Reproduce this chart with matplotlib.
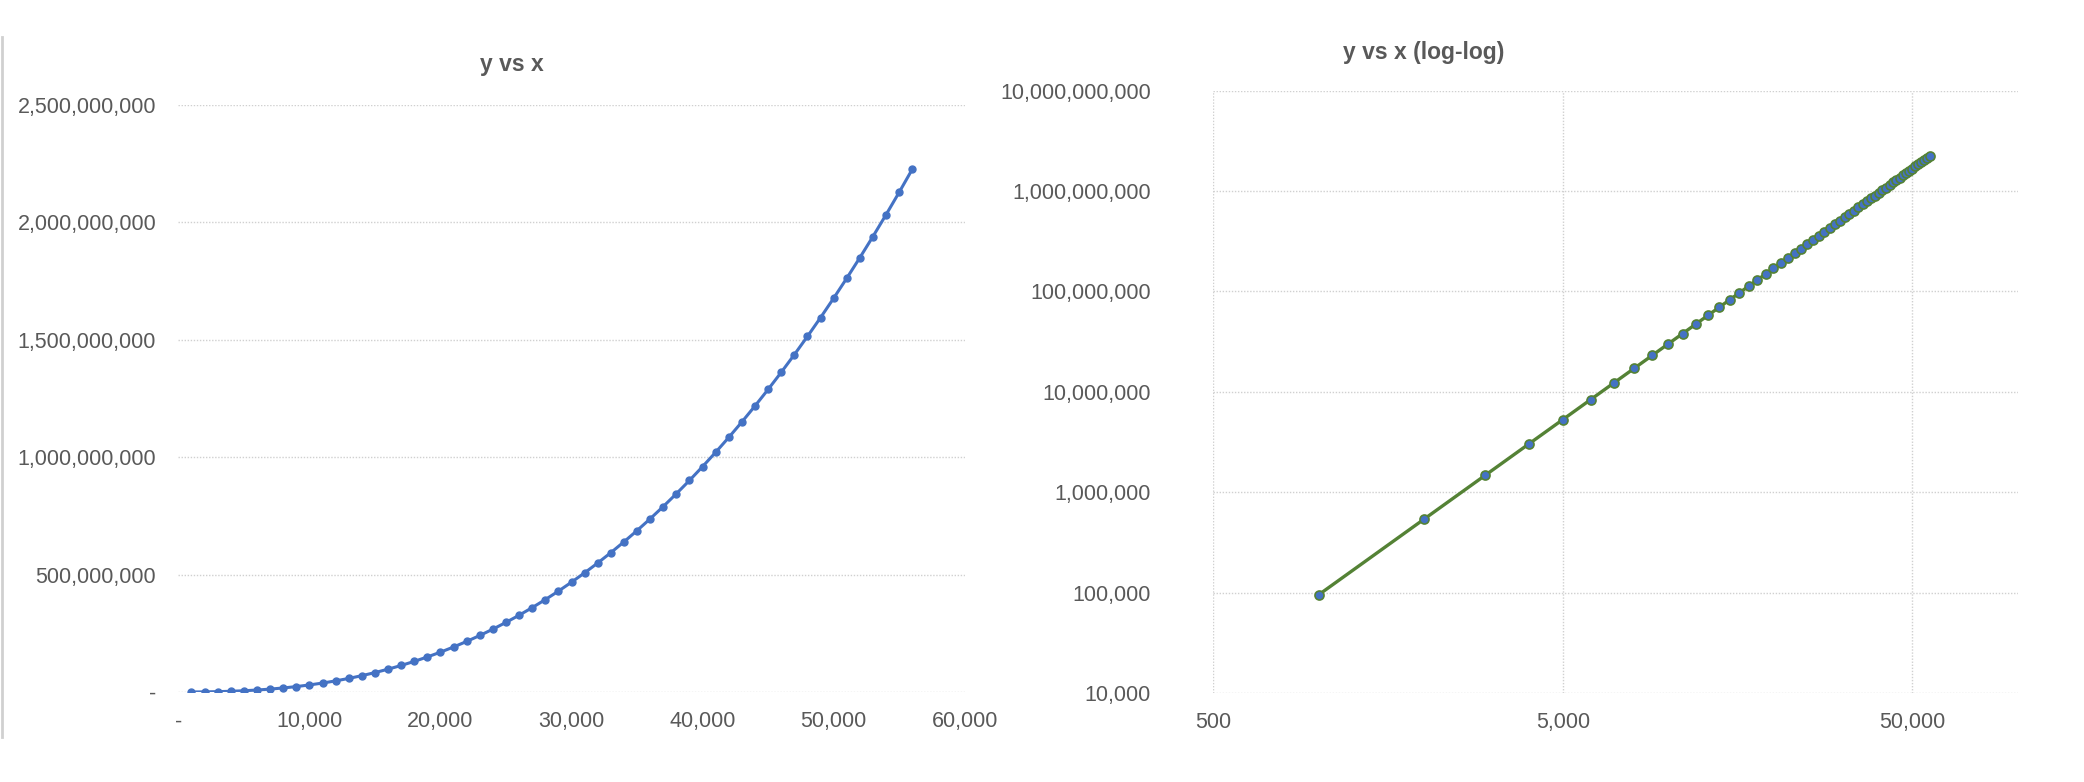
import matplotlib
matplotlib.use('Agg')
import matplotlib.pyplot as plt
from matplotlib.ticker import FuncFormatter, FixedLocator
from matplotlib.lines import Line2D

plt.rcParams['font.family'] = ['Liberation Sans', 'DejaVu Sans']

# data (x step 1000, y in millions)
x_vals = [1000, 2000, 3000, 4000, 5000, 6000, 7000, 8000, 9000, 10000,
          11000, 12000, 13000, 14000, 15000, 16000, 17000, 18000, 19000, 20000,
          21000, 22000, 23000, 24000, 25000, 26000, 27000, 28000, 29000, 30000,
          31000, 32000, 33000, 34000, 35000, 36000, 37000, 38000, 39000, 40000,
          41000, 42000, 43000, 44000, 45000, 46000, 47000, 48000, 49000, 50000,
          51000, 52000, 53000, 54000, 55000, 56000]
y_millions = [0.095, 0.537, 1.479, 3.036, 5.303, 8.366, 12.30, 17.17, 23.05, 30.00,
              38.07, 47.32, 57.81, 69.57, 82.67, 97.14, 113.0, 130.4, 149.3, 169.7,
              191.7, 215.4, 240.7, 267.7, 296.5, 327.0, 359.4, 393.6, 429.6, 467.7,
              507.6, 549.5, 593.5, 639.5, 687.5, 737.7, 790.0, 844.5, 901.1, 960.0,
              1021.1, 1084.5, 1150.2, 1218.3, 1288.7, 1361.5, 1436.7, 1514.3, 1594.4, 1677.1,
              1762.2, 1849.8, 1940.0, 2032.9, 2128.3, 2226.3]
y_vals = [v * 1e6 for v in y_millions]

lin_yticks = [0, 500e6, 1000e6, 1500e6, 2000e6, 2500e6]
lin_xticks = [0, 10000, 20000, 30000, 40000, 50000, 60000]
log_yticks = [1e4, 1e5, 1e6, 1e7, 1e8, 1e9, 1e10]
log_xticks = [500, 5000, 50000]

TXT = '#595959'
GRID = '#D0D0D0'
BLUE = '#4472C4'
GREEN = '#548235'


def excel_fmt(v, pos):
    if v == 0:
        return '-'
    return f'{v:,.0f}'


def style(ax):
    for s in ax.spines.values():
        s.set_visible(False)
    ax.tick_params(length=0, labelsize=15.5, colors=TXT)


fig = plt.figure(figsize=(20.84, 7.82), dpi=100)

# linear plot
ax1 = fig.add_axes([0.0856, 0.1151, 0.3773, 0.7506])
ax1.plot(x_vals, y_vals, color=BLUE, lw=2.2, marker='o', ms=5, mfc=BLUE, mec=BLUE, zorder=3)
ax1.set_xlim(0, 60000)
ax1.set_ylim(0, 2.5e9)
ax1.xaxis.set_major_locator(FixedLocator(lin_xticks))
ax1.yaxis.set_major_locator(FixedLocator(lin_yticks))
ax1.xaxis.set_major_formatter(FuncFormatter(excel_fmt))
ax1.yaxis.set_major_formatter(FuncFormatter(excel_fmt))
ax1.grid(axis='y', color=GRID, lw=1.0, linestyle=(0, (1, 1.2)))
ax1.set_axisbelow(True)
style(ax1)
ax1.tick_params(axis='y', pad=16)
ax1.tick_params(axis='x', pad=14)

# log-log plot
ax2 = fig.add_axes([0.5822, 0.1138, 0.3860, 0.7702])
ax2.plot(x_vals, y_vals, color=GREEN, lw=2.4, marker='o', ms=6.5, mfc=BLUE, mec=GREEN, mew=1.2, zorder=3)
ax2.set_xscale('log')
ax2.set_yscale('log')
ax2.set_xlim(500, 100000)
ax2.set_ylim(1e4, 1e10)
ax2.xaxis.set_major_locator(FixedLocator(log_xticks))
ax2.yaxis.set_major_locator(FixedLocator(log_yticks))
ax2.xaxis.set_minor_locator(FixedLocator([]))
ax2.yaxis.set_minor_locator(FixedLocator([]))
ax2.xaxis.set_major_formatter(FuncFormatter(excel_fmt))
ax2.yaxis.set_major_formatter(FuncFormatter(excel_fmt))
ax2.grid(True, color=GRID, lw=1.0, linestyle=(0, (1, 1.2)))
ax2.set_axisbelow(True)
style(ax2)
ax2.tick_params(axis='y', pad=45)
ax2.tick_params(axis='x', pad=14)

fig.text(0.2457, 0.9169, 'y vs x', ha='center', va='center', fontsize=16.5, fontweight='bold', color=TXT)
fig.text(0.6833, 0.9335, 'y vs x (log-log)', ha='center', va='center', fontsize=16.5, fontweight='bold', color=TXT)

# thin chart border on the left edge
fig.add_artist(Line2D([0.001, 0.001], [1 - 37 / 782, 1 - 737 / 782], transform=fig.transFigure,
                      color=GRID, lw=2))

fig.savefig('out.png', dpi=100)
